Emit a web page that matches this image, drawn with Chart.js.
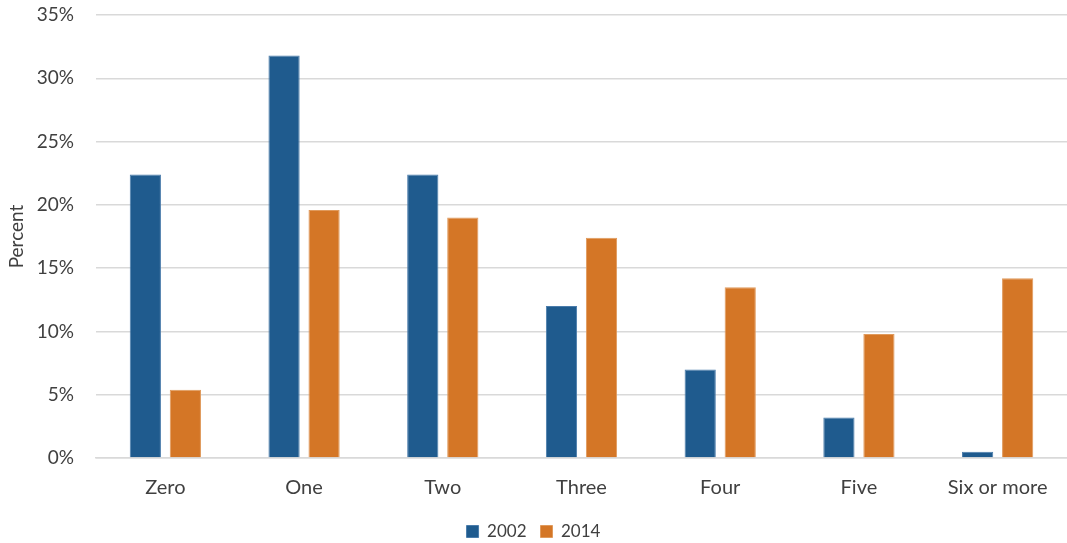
<!DOCTYPE html>
<html><head><meta charset="utf-8">
<script src="https://cdn.jsdelivr.net/npm/chart.js@4"></script>
<style>html,body{margin:0;padding:0;background:#fff}#wrap{width:1067px;height:543px}</style>
</head><body><div id="wrap"><canvas id="c" width="1067" height="543"></canvas></div>
<script>
const categories = ["Zero","One","Two","Three","Four","Five","Six or more"];
const series2002 = [22.4, 31.8, 22.4, 12.0, 7.0, 3.2, 0.5];
const series2014 = [5.4, 19.6, 19.0, 17.4, 13.5, 9.8, 14.2];
const seriesNames = ["2002","2014"];
const yTicks = [0,5,10,15,20,25,30,35];

const FONT = "Lato, 'Open Sans', sans-serif";
const legendFitPlugin = {
  id: 'legendFit',
  beforeInit(chart) {
    const lg = chart.legend;
    if (!lg) return;
    const orig = lg.fit;
    lg.fit = function() { orig.call(this); this.height = 34; };
  }
};
new Chart(document.getElementById('c'), {
  type: 'bar',
  data: {
    labels: categories,
    datasets: [
      {label: seriesNames[0], data: series2002, backgroundColor: '#1f5b8e', borderColor:'#4a7cab', borderWidth:1, categoryPercentage:0.577, barPercentage:0.78},
      {label: seriesNames[1], data: series2014, backgroundColor: '#d47626', borderColor:'#e09a5c', borderWidth:1, categoryPercentage:0.577, barPercentage:0.78}
    ]
  },
  plugins: [legendFitPlugin],
  options: {
    responsive:false, animation:false,
    layout:{padding:0},
    plugins:{
      legend:{position:'bottom', labels:{boxWidth:12, boxHeight:12, padding:14, color:'#404040', font:{family:FONT,size:17}}},
      tooltip:{enabled:false}
    },
    scales:{
      x:{grid:{display:false, drawTicks:false}, border:{display:true,color:'#d9d9d9',width:1.5},
         ticks:{color:'#404040', padding:18, font:{family:FONT,size:20}},
         afterFit: s => { s.height = 51; }},
      y:{min:0,max:35, afterBuildTicks: s => { s.ticks = yTicks.map(v=>({value:v})); },
         grid:{color:'#d9d9d9', lineWidth:1.5, drawTicks:false}, border:{display:false},
         ticks:{color:'#404040', padding:22, font:{family:FONT,size:19}, callback:v=>v+'%'},
         title:{display:true,text:'Percent',color:'#404040',font:{family:FONT,size:19},padding:{top:5,bottom:4}},
         afterFit: s => { s.width = 96; s.paddingTop = 15; s.paddingBottom = 10; }}
    }
  }
});
</script></body></html>
